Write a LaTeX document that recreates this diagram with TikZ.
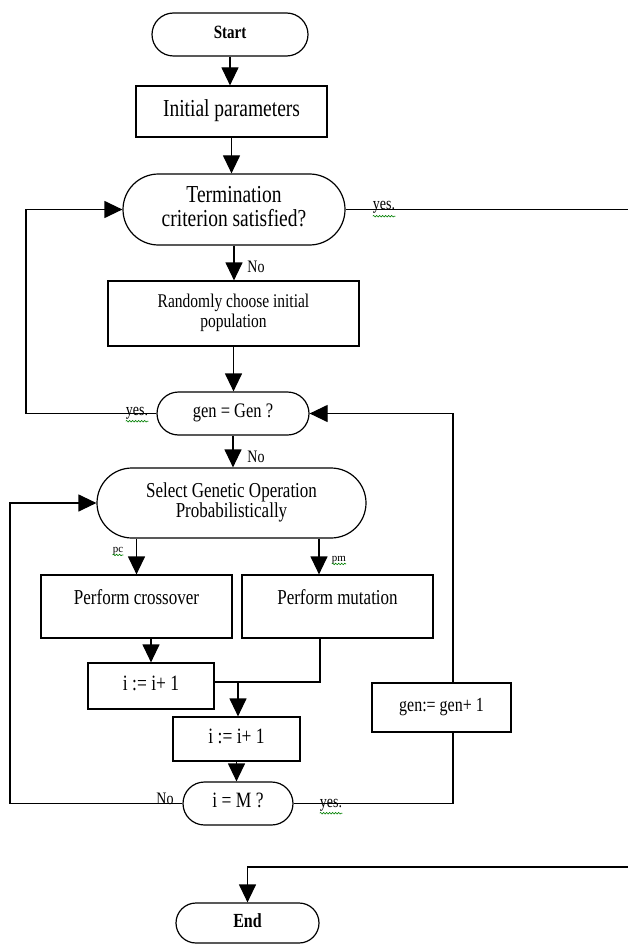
\documentclass[tikz,border=0pt]{standalone}
\usepackage{fontspec}
\setmainfont{Liberation Serif}
\usetikzlibrary{arrows.meta,shapes.misc,decorations.pathmorphing}
\newcommand\stx[1]{\scalebox{1}[1.25]{\begin{tabular}{@{}c@{}}#1\end{tabular}}}
\tikzset{
  box/.style={draw, line width=1.2pt, rectangle, inner sep=0pt, align=center},
  term/.style={draw, line width=1.2pt, rounded rectangle, rounded rectangle arc length=180, inner sep=0pt, align=center},
  txt/.style={inner sep=0pt, align=center},
  conn/.style={line width=1.2pt},
  arr/.style={line width=1.2pt, -{Triangle[width=17pt,length=18pt]}},
  lab/.style={inner sep=0pt, font=\fontsize{14}{16}\selectfont},
  squig/.style={green!50!black, line width=0.6pt, decorate, decoration={snake, amplitude=0.8pt, segment length=3pt}}
}
\begin{document}
\begin{tikzpicture}[x=1pt,y=-1pt]
\useasboundingbox[fill=white] (0,0) rectangle (628,944);
% nodes
\node[term, minimum width=156pt, minimum height=43pt, font=\fontsize{15}{16}\selectfont\bfseries] (start) at (230,34.5) {\stx{Start}};
\node[box, minimum width=191pt, minimum height=51pt, font=\fontsize{19.5}{16}\selectfont] (init) at (231.5,111.5) {\stx{Initial parameters}};
\node[term, minimum width=222pt, minimum height=71pt, font=\fontsize{19.5}{16}\selectfont] (term) at (234,209.5) {\stx{Termination\\criterion satisfied?}};
\node[box, minimum width=251pt, minimum height=65pt, font=\fontsize{15.5}{16}\selectfont] (rand) at (233.5,313.5) {\stx{Randomly choose initial\\population}};
\node[term, minimum width=152pt, minimum height=43pt, font=\fontsize{16.5}{16}\selectfont] (gen) at (233,413.5) {\stx{gen = Gen ?}};
\node[term, minimum width=269pt, minimum height=70pt, font=\fontsize{17}{16}\selectfont] (sel) at (231.5,503) {\stx{Select Genetic Operation\\Probabilistically}};
\node[box, minimum width=191pt, minimum height=63pt] (cross) at (136.5,606.5) {};
\node[txt, font=\fontsize{17}{16}\selectfont] (crosst) at (136.5,600) {\stx{Perform crossover}};
\node[box, minimum width=191pt, minimum height=63pt] (mut) at (337.5,606.5) {};
\node[txt, font=\fontsize{17}{16}\selectfont] (mutt) at (337.5,600) {\stx{Perform mutation}};
\node[box, minimum width=126pt, minimum height=46pt, font=\fontsize{17.5}{16}\selectfont] (inc1) at (151,686) {\stx{i := i+ 1}};
\node[box, minimum width=127pt, minimum height=44pt, font=\fontsize{17.5}{16}\selectfont] (inc2) at (236.5,739) {\stx{i := i+ 1}};
\node[term, minimum width=110pt, minimum height=43pt, font=\fontsize{17.5}{16}\selectfont] (im) at (238,803.5) {\stx{i = M ?}};
\node[box, minimum width=139pt, minimum height=49pt, font=\fontsize{16}{16}\selectfont] (geninc) at (441.5,707.5) {\stx{gen:= gen+ 1}};
\node[term, minimum width=143pt, minimum height=40pt, font=\fontsize{16}{16}\selectfont\bfseries] (end) at (247.5,923) {\stx{End}};
% helper coordinates
\coordinate (lx) at (26,207);
\coordinate (llx) at (10,502);
\coordinate (rx) at (453,413);
\coordinate (mx) at (319,540);
\coordinate (j1) at (320,682);
\coordinate (j2) at (238,682);
\coordinate (ex) at (629,207);
\coordinate (eb) at (629,867);
% connectors
\draw[arr] (start.south) -- (start.south |- init.north);
\draw[arr] (init.south) -- (init.south |- term.north);
\draw[arr] (term.south) -- (term.south |- rand.north);
\draw[arr] (rand.south) -- (rand.south |- gen.north);
\draw[arr] (gen.south) -- (gen.south |- sel.north);
\draw[arr] (gen.west) -- (gen.west -| lx) -- (term.west -| lx) -- (term.west);
\draw[conn] (im.east) -- (im.east -| rx) -- (geninc.south -| rx);
\draw[arr] (geninc.north -| rx) -- (gen.east -| rx) -- (gen.east);
\draw[arr] (cross.north |- sel.south) -- (cross.north);
\draw[arr] (mx |- sel.south) -- (mx |- mut.north);
\draw[arr] (inc1.north |- cross.south) -- (inc1.north);
\draw[conn] (mut.south -| j1) -- (j1) -- (inc1.east |- j1);
\draw[arr] (j2) -- (j2 |- inc2.north);
\draw[arr] (inc2.south) -- (inc2.south |- im.north);
\draw[arr] (im.west) -- (im.west -| llx) -- (sel.west -| llx) -- (sel.west);
\draw[arr] (term.east) -- (term.east -| ex) -- (eb) -- (eb -| end.north) -- (end.north);
% labels
\node[lab] (y1) at (384,206) {\stx{yes.}};
\node[lab] (n1) at (256,268) {\stx{No}};
\node[lab] (y2) at (137,411) {\stx{yes.}};
\node[lab] (n2) at (256,458) {\stx{No}};
\node[lab, font=\fontsize{11}{12}\selectfont] (pc) at (118,551) {pc};
\node[lab, font=\fontsize{11}{12}\selectfont] (pm) at (339,560) {pm};
\node[lab] (n3) at (165,800) {\stx{No}};
\node[lab] (y3) at (331,803) {\stx{yes.}};
% spell-check squiggles
\draw[squig] (y1.south west) -- (y1.south east);
\draw[squig] (y2.south west) -- (y2.south east);
\draw[squig] (y3.south west) -- (y3.south east);
\draw[squig] (pc.south west) -- (pc.south east);
\draw[squig] (pm.south west) -- (pm.south east);
\end{tikzpicture}
\end{document}
